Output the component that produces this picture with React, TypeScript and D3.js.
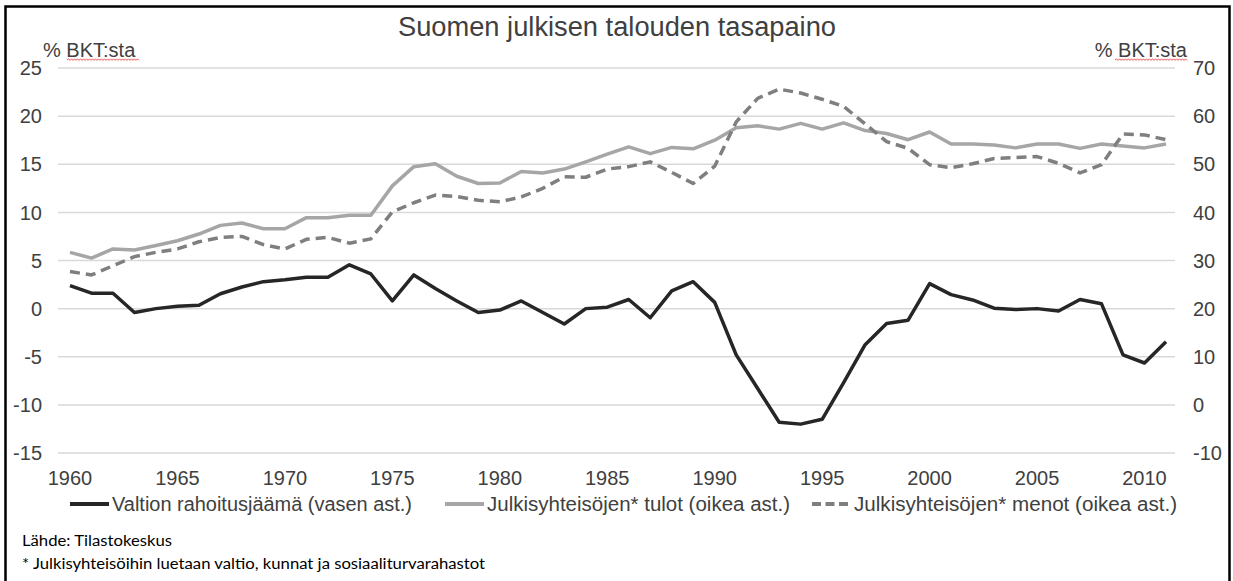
import React from "react";
import * as d3 from "d3";

// vuodet 1960-2011
const years = d3.range(1960, 2012);

// Valtion rahoitusjäämä, % BKT:sta (vasen akseli)
const balance = [
  2.4, 1.6, 1.6, -0.4, 0.0, 0.25, 0.35, 1.55, 2.25, 2.8,
  3.0, 3.25, 3.25, 4.55, 3.6, 0.8, 3.5, 2.1, 0.8, -0.4,
  -0.15, 0.8, -0.4, -1.6, 0.0, 0.15, 0.95, -0.95, 1.85, 2.8,
  0.65, -4.8, -8.3, -11.8, -12.0, -11.5, -7.7, -3.75, -1.55, -1.2,
  2.6, 1.45, 0.9, 0.05, -0.1, 0.0, -0.25, 0.95, 0.5, -4.8,
  -5.65, -3.45,
];

// Julkisyhteisöjen tulot, % BKT:sta (oikea akseli)
const revenue = [
  31.7, 30.5, 32.4, 32.2, 33.1, 34.1, 35.5, 37.3, 37.8, 36.6,
  36.6, 38.9, 38.9, 39.4, 39.4, 45.5, 49.5, 50.1, 47.5, 46.0,
  46.1, 48.5, 48.2, 49.0, 50.5, 52.1, 53.6, 52.2, 53.5, 53.2,
  55.0, 57.6, 58.0, 57.3, 58.5, 57.3, 58.6, 57.0, 56.4, 55.1,
  56.7, 54.2, 54.2, 54.0, 53.4, 54.2, 54.2, 53.3, 54.2, 53.8,
  53.4, 54.2,
];

// Julkisyhteisöjen menot, % BKT:sta (oikea akseli)
const expenditure = [
  27.7, 27.0, 28.9, 30.8, 31.7, 32.4, 33.9, 34.8, 35.0, 33.3,
  32.4, 34.4, 34.8, 33.6, 34.5, 40.1, 42.0, 43.6, 43.3, 42.5,
  42.2, 43.2, 45.0, 47.4, 47.3, 49.0, 49.5, 50.5, 48.3, 46.0,
  49.6, 58.8, 63.7, 65.6, 64.8, 63.5, 62.0, 58.4, 54.7, 53.3,
  49.9, 49.3, 50.1, 51.2, 51.4, 51.6, 50.2, 48.2, 49.9, 56.3,
  56.1, 55.1,
];

const leftTicks = [-15, -10, -5, 0, 5, 10, 15, 20, 25];
const rightTicks = [-10, 0, 10, 20, 30, 40, 50, 60, 70];
const xTickYears = [1960, 1965, 1970, 1975, 1980, 1985, 1990, 1995, 2000, 2005, 2010];

const legendLabels = [
  "Valtion rahoitusjäämä (vasen ast.)",
  "Julkisyhteisöjen* tulot (oikea ast.)",
  "Julkisyhteisöjen* menot (oikea ast.)",
];

const W = 1233;
const H = 581;
const plot = { left: 58, right: 1175, top: 68, bottom: 453 };
const axisFont = "'Liberation Sans', Arial, sans-serif";
const textColor = "#404040";

const colors = { balance: "#262626", revenue: "#a6a6a6", expenditure: "#7f7f7f" };

function squiggle(x0: number, x1: number, y: number) {
  const p = d3.path();
  p.moveTo(x0, y);
  let up = true;
  for (let x = x0 + 1.5; x <= x1; x += 1.5) {
    p.lineTo(x, up ? y - 1.2 : y + 0.4);
    up = !up;
  }
  return p.toString();
}

export default function App() {
  const x = d3.scalePoint<number>().domain(years).range([70, 1166]);
  const yL = d3.scaleLinear().domain([-15, 25]).range([plot.bottom, plot.top]);
  const yR = d3.scaleLinear().domain([-10, 70]).range([plot.bottom, plot.top]);

  const lineL = d3.line<number>().x((_, i) => x(years[i])!).y((d) => yL(d));
  const lineR = d3.line<number>().x((_, i) => x(years[i])!).y((d) => yR(d));

  const legend = [
    { label: legendLabels[0], x: 70, len: 300, color: colors.balance, dash: undefined },
    { label: legendLabels[1], x: 445, len: 303, color: colors.revenue, dash: undefined },
    { label: legendLabels[2], x: 812, len: 323, color: colors.expenditure, dash: "9,4.5" },
  ];

  return (
    <svg
      width={W}
      height={H}
      style={{ position: "absolute", left: 0, top: 0, background: "#fff" }}
      fontFamily={axisFont}
    >
      <rect x={0} y={0} width={W} height={H} fill="#fff" />
      <rect x={5.5} y={6.5} width={1224} height={700} fill="none" stroke="#000" strokeWidth={2.5} />

      <text x={617} y={36} textAnchor="middle" fontSize={27} fill={textColor} textLength={438} lengthAdjust="spacingAndGlyphs">
        Suomen julkisen talouden tasapaino
      </text>

      {/* vaakaviivat */}
      {leftTicks.map((t) => (
        <line key={t} x1={plot.left} x2={plot.right} y1={yL(t)} y2={yL(t)} stroke="#d9d9d9" strokeWidth={1.5} />
      ))}

      {/* akselit */}
      {leftTicks.map((t) => (
        <text key={t} x={42} y={yL(t)} dy="0.36em" textAnchor="end" fontSize={20} fill={textColor}>
          {t}
        </text>
      ))}
      {rightTicks.map((t) => (
        <text key={t} x={1193} y={yR(t)} dy="0.36em" textAnchor="start" fontSize={20} fill={textColor}>
          {t}
        </text>
      ))}
      {xTickYears.map((yr) => (
        <text key={yr} x={x(yr)} y={485} textAnchor="middle" fontSize={20} fill={textColor}>
          {yr}
        </text>
      ))}

      <text x={43} y={57} fontSize={20} fill={textColor}>% BKT:sta</text>
      <path d={squiggle(67, 140, 60)} fill="none" stroke="#e03030" strokeWidth={0.8} />
      <text x={1187} y={57} textAnchor="end" fontSize={20} fill={textColor}>% BKT:sta</text>
      <path d={squiggle(1115, 1187, 60)} fill="none" stroke="#e03030" strokeWidth={0.8} />

      {/* sarjat */}
      <path d={lineR(revenue)!} fill="none" stroke={colors.revenue} strokeWidth={3.5} strokeLinejoin="round" />
      <path
        d={lineR(expenditure)!}
        fill="none"
        stroke={colors.expenditure}
        strokeWidth={3.5}
        strokeDasharray="10,6"
        strokeLinejoin="round"
      />
      <path d={lineL(balance)!} fill="none" stroke={colors.balance} strokeWidth={3.5} strokeLinejoin="round" />

      {/* selite */}
      {legend.map((l) => (
        <g key={l.label} transform={`translate(${l.x},504)`}>
          <line x1={0} x2={39} y1={0} y2={0} stroke={l.color} strokeWidth={4} strokeDasharray={l.dash} />
          <text x={42} y={0} dy="0.36em" fontSize={20} fill={textColor} textLength={l.len} lengthAdjust="spacingAndGlyphs">
            {l.label}
          </text>
        </g>
      ))}

      <g fontFamily="Lato, 'Open Sans', sans-serif" fontSize={15.5} fill="#000">
        <text x={22} y={546} textLength={150} lengthAdjust="spacingAndGlyphs">Lähde: Tilastokeskus</text>
        <text x={22} y={569} textLength={463} lengthAdjust="spacingAndGlyphs">
          * Julkisyhteisöihin luetaan valtio, kunnat ja sosiaaliturvarahastot
        </text>
      </g>
    </svg>
  );
}
